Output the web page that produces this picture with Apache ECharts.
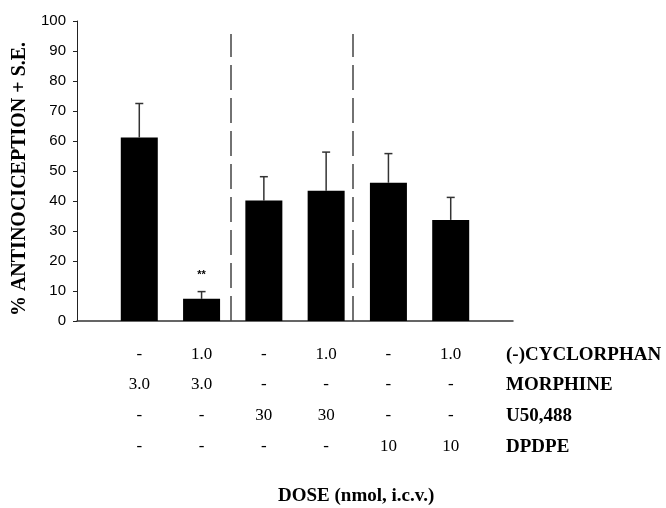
<!DOCTYPE html>
<html>
<head>
<meta charset="utf-8">
<script src="https://cdn.jsdelivr.net/npm/echarts@6/dist/echarts.min.js"></script>
<style>
    html, body { margin: 0; padding: 0; background: #fff; }
    #chart { width: 666px; height: 508px; }
</style>
</head>
<body>
<div id="chart"></div>
<script>
    // bar positions on the x scale (1..6), values and S.E.
    var positions = [1, 2, 3, 4, 5, 6];
    var values = [61.2, 7.4, 40.2, 43.4, 46.1, 33.7];
    var errors = [11.3, 2.4, 7.9, 12.9, 9.7, 7.5];
    var marks = ['', '**', '', '', '', ''];

    // dashed separators between the groups
    var dividers = [2.47, 4.42];
    var dividerTop = 95.7;

    // dose table under the chart
    var rowNames = ['(-)CYCLORPHAN', 'MORPHINE', 'U50,488', 'DPDPE'];
    var cyclorphan = ['-', '1.0', '-', '1.0', '-', '1.0'];
    var morphine = ['3.0', '3.0', '-', '-', '-', '-'];
    var u50488 = ['-', '-', '30', '30', '-', '-'];
    var dpdpe = ['-', '-', '-', '-', '10', '10'];
    var rows = [cyclorphan, morphine, u50488, dpdpe];
    var rowOffsets = [34, 64, 95, 126];

    var yTitle = '% ANTINOCICEPTION + S.E.';
    var xTitle = 'DOSE (nmol, i.c.v.)';

    var serif = '"Liberation Serif", "Times New Roman", serif';
    var sans = '"Liberation Sans", Arial, sans-serif';

    function rowAxis(k) {
        return {
            type: 'value',
            gridIndex: 0,
            position: 'bottom',
            offset: rowOffsets[k],
            min: 0,
            max: 7,
            interval: 1,
            name: rowNames[k],
            nameLocation: 'end',
            nameGap: -7,
            nameTextStyle: {
                fontFamily: serif,
                fontWeight: 'bold',
                fontSize: 19,
                color: '#000',
                align: 'left',
                verticalAlign: 'middle'
            },
            axisLine: { show: false },
            axisTick: { show: false },
            splitLine: { show: false },
            axisLabel: {
                margin: 0,
                verticalAlign: 'middle',
                fontFamily: serif,
                fontSize: 17,
                color: '#000',
                formatter: function (v) {
                    return rows[k][v - 1] || '';
                }
            }
        };
    }

    var barData = [];
    var errData = [];
    for (var i = 0; i < positions.length; i++) {
        barData.push({
            value: [positions[i], values[i]],
            label: { show: marks[i] !== '', formatter: marks[i] }
        });
        errData.push([positions[i], values[i], values[i] + errors[i]]);
    }

    var dividerLines = [];
    for (var j = 0; j < dividers.length; j++) {
        dividerLines.push([
            { coord: [dividers[j], 0] },
            { coord: [dividers[j], dividerTop] }
        ]);
    }

    var xAxes = [{
        type: 'value',
        min: 0,
        max: 7,
        interval: 1,
        axisLine: { lineStyle: { color: '#333', width: 1.5 } },
        axisTick: { show: false },
        axisLabel: { show: false },
        splitLine: { show: false }
    }];
    for (var k = 0; k < rows.length; k++) {
        xAxes.push(rowAxis(k));
    }

    var chart = echarts.init(document.getElementById('chart'));

    chart.setOption({
        animation: false,
        backgroundColor: '#fff',
        title: {
            text: xTitle,
            left: 273,
            top: 482,
            textStyle: {
                fontFamily: serif,
                fontWeight: 'bold',
                fontSize: 19,
                color: '#000'
            }
        },
        grid: {
            left: 77,
            right: 153,
            top: 21,
            bottom: 187
        },
        xAxis: xAxes,
        yAxis: {
            type: 'value',
            min: 0,
            max: 100,
            interval: 10,
            name: yTitle,
            nameLocation: 'middle',
            nameGap: 45,
            nameTextStyle: {
                fontFamily: serif,
                fontWeight: 'bold',
                fontSize: 20,
                color: '#000',
                padding: [0, 16, 0, 0]
            },
            axisLine: { show: true, lineStyle: { color: '#222', width: 1 } },
            axisTick: { show: true, length: 4, lineStyle: { color: '#222' } },
            axisLabel: {
                margin: 11,
                fontFamily: sans,
                fontSize: 15,
                color: '#000'
            },
            splitLine: { show: false }
        },
        series: [{
            type: 'bar',
            data: barData,
            barWidth: 37,
            itemStyle: { color: '#000' },
            label: {
                position: 'top',
                distance: 18,
                fontSize: 11,
                fontWeight: 'bold',
                color: '#000'
            },
            markLine: {
                silent: true,
                symbol: ['none', 'none'],
                label: { show: false },
                lineStyle: { color: '#444', width: 1.5, type: [25, 8] },
                data: dividerLines
            }
        }, {
            type: 'custom',
            data: errData,
            z: 1,
            renderItem: function (params, api) {
                var base = api.coord([api.value(0), api.value(1)]);
                var top = api.coord([api.value(0), api.value(2)]);
                var style = { stroke: '#333', lineWidth: 1.5 };
                return {
                    type: 'group',
                    children: [{
                        type: 'line',
                        shape: { x1: base[0], y1: base[1], x2: top[0], y2: top[1] },
                        style: style
                    }, {
                        type: 'line',
                        shape: { x1: top[0] - 4, y1: top[1], x2: top[0] + 4, y2: top[1] },
                        style: style
                    }]
                };
            }
        }]
    });
</script>
</body>
</html>
